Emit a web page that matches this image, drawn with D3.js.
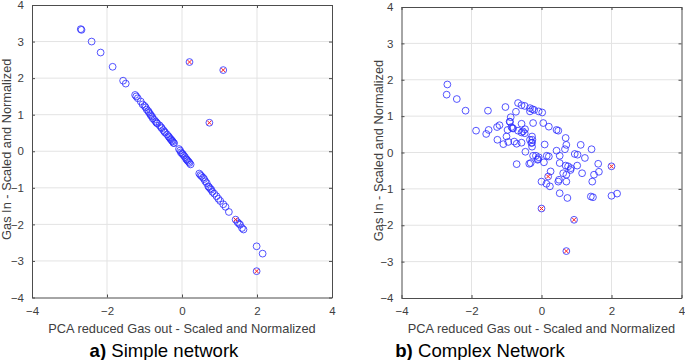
<!DOCTYPE html>
<html>
<head>
<meta charset="utf-8">
<script src="https://cdn.jsdelivr.net/npm/d3@7"></script>
<style>
  body { margin: 0; background: #fff; }
  text { font-family: "Liberation Sans", Arial, sans-serif; }
</style>
</head>
<body>
<div id="chart"></div>
<script>
// values
const xTicks = [-4, -2, 0, 2, 4];
const yTicks = [-4, -3, -2, -1, 0, 1, 2, 3, 4];

const simplePoints = [
  [-2.70, 3.34], [-2.68, 3.32], [-2.41, 3.00], [-2.17, 2.70], [-1.85, 2.31], [-1.57, 1.93],
  [-1.50, 1.85], [-1.25, 1.54], [-1.22, 1.50], [-1.18, 1.45], [-1.10, 1.36], [-1.05, 1.28],
  [-1.00, 1.24], [-0.97, 1.20], [-0.94, 1.14], [-0.90, 1.10], [-0.88, 1.06], [-0.85, 1.02],
  [-0.83, 0.98], [-0.80, 0.95], [-0.78, 0.90], [-0.74, 0.86], [-0.70, 0.81], [-0.68, 0.78],
  [-0.66, 0.76], [-0.60, 0.71], [-0.56, 0.66], [-0.54, 0.63], [-0.50, 0.58], [-0.47, 0.54],
  [-0.45, 0.51], [-0.40, 0.46], [-0.36, 0.41], [-0.34, 0.38], [-0.31, 0.34], [-0.29, 0.32],
  [-0.27, 0.29], [-0.25, 0.27], [-0.23, 0.23], [-0.21, 0.22], [-0.08, 0.06], [-0.05, 0.02],
  [-0.03, -0.03], [0.00, -0.06], [0.02, -0.08], [0.05, -0.12], [0.08, -0.16], [0.11, -0.21],
  [0.13, -0.23], [0.15, -0.26], [0.18, -0.29], [0.20, -0.32], [0.23, -0.36], [0.46, -0.61],
  [0.49, -0.65], [0.52, -0.68], [0.56, -0.72], [0.59, -0.76], [0.62, -0.82], [0.66, -0.87],
  [0.70, -0.96], [0.72, -0.98], [0.75, -1.02], [0.78, -1.05], [0.81, -1.11], [0.86, -1.16],
  [0.92, -1.23], [0.97, -1.30], [1.02, -1.36], [1.10, -1.45], [1.16, -1.52], [1.25, -1.66],
  [1.48, -1.94], [1.52, -1.98], [1.55, -2.01], [1.60, -2.10], [1.64, -2.14], [1.99, -2.60],
  [2.15, -2.80]
];
const simpleOutliers = [[0.20, 2.44], [1.10, 2.22], [0.73, 0.78], [1.43, -1.87], [1.99, -3.28]];

const complexPoints = [
  [-2.69, 1.87], [-2.71, 1.59], [-2.42, 1.47], [-2.17, 1.15], [-1.53, 1.15], [-1.87, 0.60],
  [-1.58, 0.51], [-1.51, 0.62], [-1.27, 0.70], [-1.20, 0.75], [-1.03, 1.25], [-0.67, 1.36],
  [-0.57, 1.30], [-0.48, 1.28], [-0.33, 1.22], [-0.26, 1.19], [-0.21, 1.17], [-0.08, 1.13],
  [0.02, 1.10], [-0.73, 1.12], [-0.88, 0.97], [-0.90, 0.84], [-0.86, 0.70], [-0.81, 0.66],
  [-0.57, 0.79], [-0.57, 0.55], [-0.48, 0.53], [-0.47, 0.64], [-0.24, 0.81], [-0.67, 0.60],
  [-1.00, 0.44], [-1.26, 0.35], [-1.09, 0.23], [-0.95, 0.29], [-0.78, 0.30], [-0.71, 0.24],
  [-0.57, 0.27], [-0.27, 0.44], [-0.26, 0.35], [-0.27, 0.27], [-0.27, 0.16], [-0.46, 0.02],
  [-0.24, -0.09], [-0.08, -0.13], [-0.11, -0.20], [0.07, -0.27], [0.15, -0.09], [0.21, -0.11],
  [0.09, 0.22], [0.05, 0.81], [0.21, 0.71], [0.43, 0.62], [0.48, 0.60], [0.69, 0.40],
  [0.71, 0.21], [0.67, 0.09], [0.43, 0.05], [0.52, -0.09], [0.52, -0.29], [0.69, -0.36],
  [0.76, -0.38], [0.84, -0.43], [0.95, -0.04], [1.03, -0.06], [1.12, 0.21], [1.24, -0.15],
  [1.43, 0.09], [1.02, -0.36], [1.16, -0.57], [1.62, -0.31], [1.64, -0.53], [1.50, -0.61],
  [0.62, -0.57], [0.26, -0.52], [-0.71, -0.32], [-0.35, -0.31], [-0.31, -0.29], [0.00, -0.80],
  [0.14, -0.86], [0.24, -0.93], [0.48, -0.80], [0.71, -0.80], [0.52, -1.12], [0.74, -1.25],
  [1.45, -0.80], [1.41, -1.21], [1.47, -1.23], [2.00, -1.19], [2.16, -1.13], [0.71, -0.61],
  [0.50, -0.75], [0.83, -0.48], [-0.91, 0.85], [-0.83, 0.67], [-0.53, 0.58], [-0.97, 0.62],
  [-0.33, 0.35], [-0.16, -0.09], [-0.10, -0.18], [-0.29, 0.26], [-0.33, 1.13]
];
const complexOutliers = [[2.00, -0.38], [0.19, -0.66], [0.00, -1.54], [0.93, -1.85], [0.71, -2.71]];

const width = 685, height = 360;

const svg = d3.select("#chart")
  .append("svg")
  .attr("width", width)
  .attr("height", height)
  .style("background", "#fff");

function drawPanel(opts) {
  const x = d3.scaleLinear().domain([-4, 4]).range([opts.left, opts.right]);
  const y = d3.scaleLinear().domain([-4, 4]).range([opts.bottom, opts.top]);
  const g = svg.append("g");

  // grid
  g.append("g").selectAll("line").data(xTicks.slice(1, -1)).enter().append("line")
    .attr("x1", d => x(d)).attr("x2", d => x(d))
    .attr("y1", opts.top).attr("y2", opts.bottom)
    .attr("stroke", "#e3e3e3").attr("stroke-width", 1);
  g.append("g").selectAll("line").data(yTicks.slice(1, -1)).enter().append("line")
    .attr("y1", d => y(d)).attr("y2", d => y(d))
    .attr("x1", opts.left).attr("x2", opts.right)
    .attr("stroke", "#e3e3e3").attr("stroke-width", 1);

  // axes, ticks pointing inward on all four sides
  const fmt = d3.format("d");
  g.append("g").attr("transform", `translate(0,${opts.bottom})`)
    .call(d3.axisBottom(x).tickValues(xTicks).tickSizeInner(-3).tickSizeOuter(0).tickPadding(9).tickFormat(fmt));
  g.append("g").attr("transform", `translate(${opts.left},0)`)
    .call(d3.axisLeft(y).tickValues(yTicks).tickSizeInner(-3).tickSizeOuter(0).tickPadding(8).tickFormat(fmt));
  g.append("g").attr("transform", `translate(0,${opts.top})`)
    .call(d3.axisTop(x).tickValues(xTicks).tickSizeInner(-3).tickSizeOuter(0).tickFormat(""));
  g.append("g").attr("transform", `translate(${opts.right},0)`)
    .call(d3.axisRight(y).tickValues(yTicks).tickSizeInner(-3).tickSizeOuter(0).tickFormat(""));
  g.selectAll(".domain, .tick line").attr("stroke", "#4d4d4d");
  g.selectAll(".tick text").attr("fill", "#404040").style("font-size", "11.5px")
    .style("font-family", "'Liberation Sans', Arial, sans-serif");

  // points
  g.append("g").selectAll("circle").data(opts.points.concat(opts.outliers)).enter().append("circle")
    .attr("cx", d => x(d[0])).attr("cy", d => y(d[1]))
    .attr("r", 3.4)
    .attr("fill", "none")
    .attr("stroke", "#2a2aff")
    .attr("stroke-opacity", 0.8)
    .attr("stroke-width", 1);

  const s = 2;
  g.append("g").selectAll("path").data(opts.outliers).enter().append("path")
    .attr("d", d => {
      const cx = x(d[0]), cy = y(d[1]);
      return `M${cx - s},${cy - s}L${cx + s},${cy + s}M${cx - s},${cy + s}L${cx + s},${cy - s}`;
    })
    .attr("stroke", "#ff2020")
    .attr("stroke-width", 1)
    .attr("fill", "none");

  // axis titles
  g.append("text")
    .attr("x", (opts.left + opts.right) / 2)
    .attr("y", opts.bottom + 35)
    .attr("text-anchor", "middle")
    .attr("fill", "#404040")
    .style("font-size", "12.8px")
    .text("PCA reduced Gas out - Scaled and Normalized");

  g.append("text")
    .attr("transform", `translate(${opts.yLabelX},${(opts.top + opts.bottom) / 2 - 2}) rotate(-90)`)
    .attr("text-anchor", "middle")
    .attr("fill", "#404040")
    .style("font-size", "12.8px")
    .text("Gas In - Scaled and Normalized");

  // caption
  const cap = g.append("text")
    .attr("x", opts.captionX)
    .attr("y", 357)
    .attr("text-anchor", "middle")
    .attr("fill", "#000")
    .style("font-size", "18.6px");
  cap.append("tspan").style("font-weight", "bold").text(opts.captionTag);
  cap.append("tspan").text(opts.caption);
}

drawPanel({
  left: 32, right: 332, top: 5, bottom: 297.5,
  yLabelX: 11, captionX: 164,
  captionTag: "a)", caption: " Simple network",
  points: simplePoints, outliers: simpleOutliers
});

drawPanel({
  left: 401.5, right: 681.5, top: 7, bottom: 298,
  yLabelX: 382.5, captionX: 480,
  captionTag: "b)", caption: " Complex Network",
  points: complexPoints, outliers: complexOutliers
});
</script>
</body>
</html>
